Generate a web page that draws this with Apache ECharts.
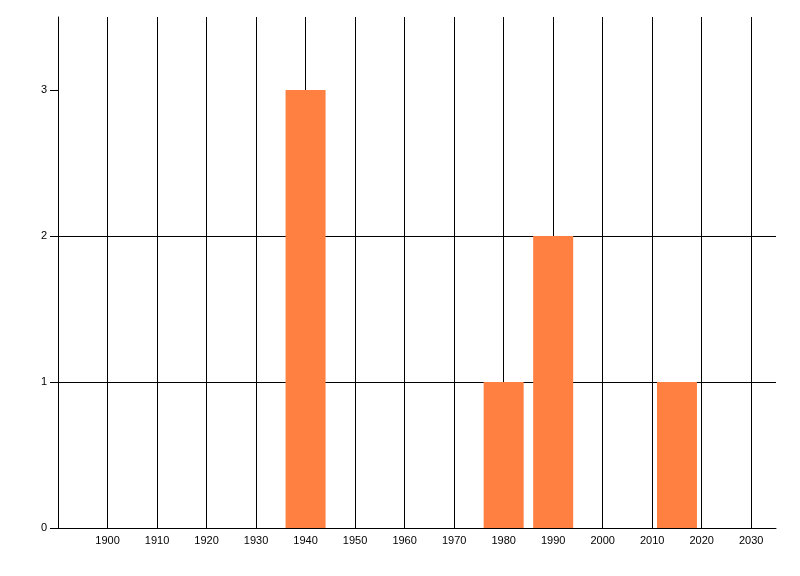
<!DOCTYPE html>
<html>
<head>
<meta charset="utf-8">
<script src="https://cdn.jsdelivr.net/npm/echarts@6/dist/echarts.min.js"></script>
<style>
  html, body { margin: 0; padding: 0; background: #fff; }
  #chart { width: 800px; height: 576px; }
</style>
</head>
<body>
<div id="chart"></div>
<script>
// decades shown on the x axis
const xTicks = [1900, 1910, 1920, 1930, 1940, 1950, 1960, 1970, 1980, 1990, 2000, 2010, 2020, 2030];
const yTicks = [0, 1, 2, 3];
// bar positions (year) and counts
const years = [1940, 1980, 1990, 2015];
const counts = [3, 1, 2, 1];

const font = { fontFamily: 'Liberation Sans', fontSize: 11, color: '#000' };

const chart = echarts.init(document.getElementById('chart'));

chart.setOption({
  animation: false,
  grid: { left: 58, right: 24, top: 17, bottom: 48, containLabel: false },
  xAxis: {
    type: 'value',
    min: 1890,
    max: 2035,
    interval: 10,
    axisLine: { lineStyle: { color: '#000', width: 1 } },
    axisTick: { show: false },
    axisLabel: Object.assign({ margin: 7, customValues: xTicks, formatter: v => String(v) }, font),
    splitLine: { show: true, showMinLine: true, showMaxLine: false, lineStyle: { color: '#000', width: 1 } }
  },
  yAxis: {
    type: 'value',
    min: 0,
    max: 3.5,
    interval: 1,
    axisLine: { show: true, lineStyle: { color: '#000', width: 1 } },
    axisTick: { show: true, length: 8, customValues: yTicks, lineStyle: { color: '#000' } },
    axisLabel: Object.assign({ margin: 11, customValues: yTicks, formatter: v => String(v) }, font),
    splitLine: { show: true, showMaxLine: false, lineStyle: { color: '#000', width: 1 } }
  },
  series: [{
    type: 'bar',
    data: years.map((y, i) => [y, counts[i]]),
    barWidth: 40,
    itemStyle: { color: '#ff8040' },
    z: 3
  }]
});
</script>
</body>
</html>
